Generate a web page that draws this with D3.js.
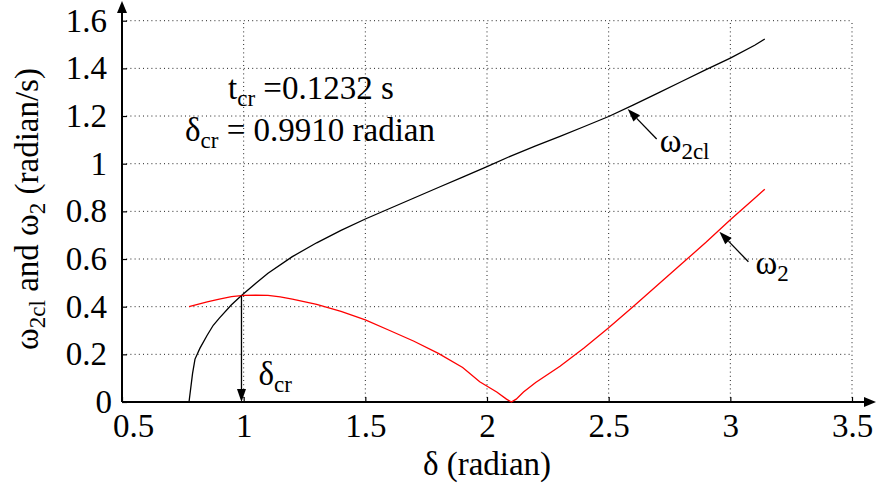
<!DOCTYPE html>
<html>
<head>
<meta charset="utf-8">
<script src="https://cdn.jsdelivr.net/npm/d3@7"></script>
<style>
  html, body { margin: 0; padding: 0; background: #fff; }
  svg { display: block; }
</style>
</head>
<body>
<svg id="chart" width="876" height="486"></svg>
<script>
// Axis ticks
const xTicks = [0.5, 1, 1.5, 2, 2.5, 3, 3.5];
const yTicks = [0, 0.2, 0.4, 0.6, 0.8, 1, 1.2, 1.4, 1.6];

// Post-fault critical clearing speed omega_2cl versus rotor angle
const deltaCl = [0.7754, 0.79, 0.80, 0.82, 0.85, 0.875, 0.90, 0.95, 0.991, 1.05, 1.10, 1.20, 1.30, 1.40, 1.50,
                 1.60, 1.70, 1.80, 1.90, 2.00, 2.10, 2.20, 2.30, 2.40, 2.50, 2.60, 2.70, 2.80, 2.90, 3.00, 3.10, 3.1416];
const omegaCl = [0.000, 0.120, 0.180, 0.225, 0.280, 0.322, 0.352, 0.408, 0.447, 0.498, 0.540, 0.610, 0.668, 0.720, 0.768,
                 0.812, 0.856, 0.900, 0.944, 0.988, 1.033, 1.075, 1.115, 1.156, 1.198, 1.246, 1.295, 1.345, 1.395, 1.443, 1.497, 1.523];

// Rotor speed omega_2 along the trajectory
const deltaW2 = [0.7754, 0.85, 0.90, 0.95, 1.00, 1.05, 1.10, 1.15, 1.20, 1.30, 1.40, 1.50, 1.60, 1.70, 1.80, 1.90,
                 1.97, 2.04, 2.08, 2.10, 2.12, 2.15, 2.20, 2.30, 2.40, 2.50, 2.60, 2.70, 2.80, 2.90, 3.00, 3.10, 3.1416];
const omegaW2 = [0.400, 0.420, 0.432, 0.442, 0.447, 0.448, 0.447, 0.441, 0.432, 0.410, 0.380, 0.345, 0.300, 0.255, 0.204, 0.145,
                 0.085, 0.042, 0.012, 0.000, 0.012, 0.042, 0.082, 0.150, 0.228, 0.312, 0.400, 0.490, 0.580, 0.670, 0.765, 0.855, 0.893];

// Critical values
const tCr = 0.1232;
const deltaCr = 0.9910;
const omegaCr = 0.447;

const FONT = '"Liberation Serif", "Times New Roman", serif';
const svg = d3.select("#chart").style("font-family", FONT);
const x = d3.scaleLinear().domain([0.5, 3.5]).range([122, 852]);
const y = d3.scaleLinear().domain([0, 1.6]).range([402, 20.7]);
const FS = 33;

// Dotted grid
const grid = svg.append("g").attr("stroke", "#222").attr("stroke-width", 1)
  .attr("stroke-dasharray", "1,3.2");
grid.selectAll("line.v").data(xTicks.slice(1)).join("line")
  .attr("x1", d => x(d)).attr("x2", d => x(d))
  .attr("y1", y(0)).attr("y2", y(1.6));
grid.selectAll("line.h").data(yTicks.slice(1)).join("line")
  .attr("x1", x(0.5)).attr("x2", x(3.5))
  .attr("y1", d => y(d)).attr("y2", d => y(d));

// Axes
const xAxis = svg.append("g").attr("transform", `translate(0,${y(0)})`)
  .call(d3.axisBottom(x).tickValues(xTicks).tickFormat(d3.format("")).tickSizeInner(-5).tickSizeOuter(0).tickPadding(12));
const yAxis = svg.append("g").attr("transform", `translate(${x(0.5)},0)`)
  .call(d3.axisLeft(y).tickValues(yTicks).tickFormat(d3.format("")).tickSizeInner(-5).tickSizeOuter(0).tickPadding(15));
[xAxis, yAxis].forEach(g => {
  g.attr("font-family", null).style("font-family", FONT).attr("font-size", FS);
  g.select(".domain").remove();
  g.selectAll(".tick line").attr("stroke", "#000").attr("stroke-width", 1.2);
  g.selectAll(".tick text").attr("fill", "#000");
});
xAxis.selectAll(".tick text").filter(d => d === 0.5).attr("dx", 11);
yAxis.selectAll(".tick text").filter(d => d === 0).attr("dx", 5);

// Axis lines with arrow heads
const axisG = svg.append("g");
axisG.append("line").attr("x1", x(0.5)).attr("x2", 866).attr("y1", y(0)).attr("y2", y(0))
  .attr("stroke", "#000").attr("stroke-width", 2);
axisG.append("path").attr("d", `M876,${y(0)} L864,${y(0) - 5} L864,${y(0) + 5} Z`).attr("fill", "#000");
axisG.append("line").attr("x1", x(0.5)).attr("x2", x(0.5)).attr("y1", y(0)).attr("y2", 12)
  .attr("stroke", "#000").attr("stroke-width", 2);
axisG.append("path").attr("d", `M${x(0.5)},1 L${x(0.5) - 5},13 L${x(0.5) + 5},13 Z`).attr("fill", "#000");

// Curves
const line = d3.line().x(d => x(d[0])).y(d => y(d[1]));
svg.append("path").datum(d3.zip(deltaCl, omegaCl)).attr("d", line)
  .attr("fill", "none").attr("stroke", "#000").attr("stroke-width", 1.3);
svg.append("path").datum(d3.zip(deltaW2, omegaW2)).attr("d", line)
  .attr("fill", "none").attr("stroke", "#ff0000").attr("stroke-width", 1.3);

// Arrow helper: shaft from (x0,y0) to tip (x1,y1) with filled head
function arrow(x0, y0, x1, y1, len = 13, half = 4.5) {
  const a = Math.atan2(y1 - y0, x1 - x0);
  const bx = x1 - len * Math.cos(a), by = y1 - len * Math.sin(a);
  const px = -Math.sin(a) * half, py = Math.cos(a) * half;
  svg.append("line").attr("x1", x0).attr("y1", y0).attr("x2", bx).attr("y2", by)
    .attr("stroke", "#000").attr("stroke-width", 1.3);
  svg.append("path").attr("d", `M${x1},${y1} L${bx + px},${by + py} L${bx - px},${by - py} Z`).attr("fill", "#000");
}

// delta_cr marker
arrow(x(deltaCr), y(omegaCr), x(deltaCr), y(0));

// Labels for the two curves
const interp = (xs, ys, v) => { const i = d3.bisectLeft(xs, v); const t = (v - xs[i - 1]) / (xs[i] - xs[i - 1]); return ys[i - 1] + t * (ys[i] - ys[i - 1]); };
const dLabCl = 2.574, dLabW2 = 2.951;
const tipCl = [x(dLabCl), y(interp(deltaCl, omegaCl, dLabCl))];
const tipW2 = [x(dLabW2), y(interp(deltaW2, omegaW2, dLabW2))];
arrow(tipCl[0] + 30, tipCl[1] + 31, tipCl[0] + 1, tipCl[1] + 1);
arrow(tipW2[0] + 30, tipW2[1] + 31, tipW2[0] + 1, tipW2[1] + 1);

function subText(xp, yp, parts, opts = {}) {
  const t = svg.append("text").attr("x", xp).attr("y", yp).attr("font-size", FS).attr("fill", "#000");
  if (opts.anchor) t.attr("text-anchor", opts.anchor);
  if (opts.transform) t.attr("transform", opts.transform);
  parts.forEach(p => {
    const s = t.append("tspan").text(p.t);
    if (p.sub) s.attr("font-size", 23).attr("dy", 7);
    else if (p.back) s.attr("dy", -7);
  });
  return t;
}

subText(tipCl[0] + 33, tipCl[1] + 44, [{ t: "ω" }, { t: "2cl", sub: true }]);
subText(tipW2[0] + 37, tipW2[1] + 43, [{ t: "ω" }, { t: "2", sub: true }]);
subText(x(deltaCr) + 17, 385, [{ t: "δ" }, { t: "cr", sub: true }]);

// Critical clearing annotation
subText(228, 99, [{ t: "t" }, { t: "cr", sub: true }, { t: " =" + tCr.toFixed(4) + " s", back: true }]);
subText(185, 141, [{ t: "δ" }, { t: "cr", sub: true }, { t: " = " + deltaCr.toFixed(4) + " radian", back: true }]);

// Axis titles
svg.append("text").attr("x", 487).attr("y", 475).attr("text-anchor", "middle")
  .attr("font-size", FS).attr("fill", "#000").text("δ (radian)");
subText(0, 0, [{ t: "ω" }, { t: "2cl", sub: true }, { t: " and ω", back: true }, { t: "2", sub: true }, { t: " (radian/s)", back: true }],
  { anchor: "middle", transform: "translate(38,209) rotate(-90)" });
</script>
</body>
</html>
